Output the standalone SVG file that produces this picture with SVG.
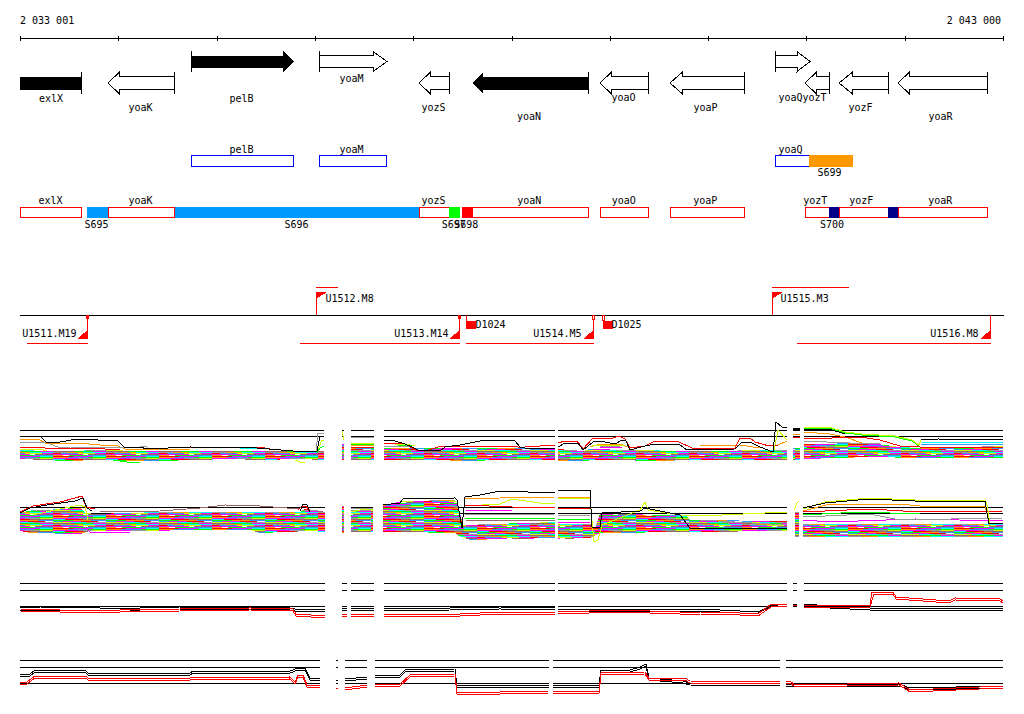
<svg xmlns="http://www.w3.org/2000/svg" width="1024" height="714" viewBox="0 0 1024 714" shape-rendering="crispEdges">
<style>
text{font-family:"DejaVu Sans Mono","Liberation Mono",monospace;font-size:10px;fill:#000}
.m{text-anchor:middle}
.e{text-anchor:end}
.ol{fill:#fff;stroke:#000;stroke-width:1}
.fk{fill:#000}
.bar{stroke:#000;stroke-width:1;fill:none}
.bb{fill:none;stroke:#00f}
.rb{fill:none;stroke:#f00}
.tu{stroke:#f00;fill:none}
.tf{fill:#f00}
.ref{stroke:#000;fill:none}
.band{fill:url(#mix)}
polyline{fill:none;stroke-width:1}
.k{stroke:#000}.r{stroke:#f00}.o{stroke:#f90}.y{stroke:#cf0}.g{stroke:#0f0}.mg{stroke:#f0f}.c{stroke:#0ff}.b{stroke:#39f}.gr{stroke:#999}.br{stroke:#966}
</style>
<defs>
<pattern id="mix" width="53" height="12" patternUnits="userSpaceOnUse">
<rect x="0" y="0" width="20" height="1" fill="#f00"/><rect x="20" y="0" width="20" height="1" fill="#f0f"/><rect x="40" y="0" width="13" height="1" fill="#0ff"/>
<rect x="0" y="1" width="15" height="1" fill="#f90"/><rect x="15" y="1" width="20" height="1" fill="#39f"/><rect x="35" y="1" width="18" height="1" fill="#0f0"/>
<rect x="0" y="2" width="25" height="1" fill="#f0f"/><rect x="25" y="2" width="15" height="1" fill="#999"/><rect x="40" y="2" width="13" height="1" fill="#cf0"/>
<rect x="0" y="3" width="12" height="1" fill="#0ff"/><rect x="12" y="3" width="18" height="1" fill="#f00"/><rect x="30" y="3" width="23" height="1" fill="#966"/>
<rect x="0" y="4" width="20" height="1" fill="#0f0"/><rect x="20" y="4" width="18" height="1" fill="#f90"/><rect x="38" y="4" width="15" height="1" fill="#39f"/>
<rect x="0" y="5" width="10" height="1" fill="#39f"/><rect x="10" y="5" width="18" height="1" fill="#f0f"/><rect x="28" y="5" width="17" height="1" fill="#f00"/>
<rect x="0" y="6" width="18" height="1" fill="#cf0"/><rect x="18" y="6" width="15" height="1" fill="#0ff"/><rect x="33" y="6" width="20" height="1" fill="#999"/>
<rect x="0" y="7" width="22" height="1" fill="#966"/><rect x="22" y="7" width="18" height="1" fill="#0f0"/><rect x="40" y="7" width="13" height="1" fill="#f0f"/>
<rect x="0" y="8" width="14" height="1" fill="#999"/><rect x="14" y="8" width="16" height="1" fill="#f90"/><rect x="30" y="8" width="23" height="1" fill="#0ff"/>
<rect x="0" y="9" width="8" height="1" fill="#f00"/><rect x="8" y="9" width="17" height="1" fill="#39f"/><rect x="25" y="9" width="17" height="1" fill="#cf0"/><rect x="42" y="9" width="11" height="1" fill="#f0f"/>
<rect x="0" y="10" width="30" height="1" fill="#f0f"/><rect x="35" y="10" width="18" height="1" fill="#966"/>
<rect x="0" y="11" width="10" height="1" fill="#f90"/><rect x="16" y="11" width="18" height="1" fill="#0f0"/><rect x="34" y="11" width="19" height="1" fill="#39f"/>
</pattern>
</defs>
<rect width="1024" height="714" fill="#fff"/>

<g id="ruler">
<text x="20" y="24">2 033 001</text>
<text x="1001" y="24" class="e">2 043 000</text>
<path class="bar" d="M20 38.5H1004M20.5 36V41M118.5 36V41M217.5 36V41M315.5 36V41M413.5 36V41M512.5 36V41M610.5 36V41M708.5 36V41M806.5 36V41M905.5 36V41M1003.5 36V41"/>
</g>

<g id="genes">
<g id="gene-exlX"><rect x="20" y="76.5" width="61" height="13" class="fk"/><path class="bar" d="M81.5 72V94"/><text x="51" y="101.5" class="m">exlX</text></g>
<g id="gene-yoaK"><polygon class="ol" points="108,83 119,72.5 119,76.5 174.5,76.5 174.5,89.5 119,89.5 119,93.5"/><path class="bar" d="M174.5 72V94"/><text x="140.5" y="111" class="m">yoaK</text></g>
<g id="gene-pelB"><polygon class="fk" points="191,55.5 283,55.5 283,51 294,61.5 283,72 283,68 191,68"/><path class="bar" d="M191.5 51V72"/><text x="241.5" y="101.5" class="m">pelB</text></g>
<g id="gene-yoaM"><polygon class="ol" points="319.5,55.5 373,55.5 373,51.5 387,61.5 373,71.5 373,67.5 319.5,67.5"/><path class="bar" d="M319.5 51V72"/><text x="351.5" y="82" class="m">yoaM</text></g>
<g id="gene-yozS"><polygon class="ol" points="419,83 430,72.5 430,76.5 449.5,76.5 449.5,89.5 430,89.5 430,93.5"/><path class="bar" d="M449.5 72V94"/><text x="433.5" y="111" class="m">yozS</text></g>
<g id="gene-yoaN"><polygon class="fk" points="472,83 483,72 483,76.5 589,76.5 589,89.5 483,89.5 483,94"/><path class="bar" d="M588.5 72V94"/><text x="529" y="119.5" class="m">yoaN</text></g>
<g id="gene-yoaO"><polygon class="ol" points="600,83 611,72.5 611,76.5 648.5,76.5 648.5,89.5 611,89.5 611,93.5"/><path class="bar" d="M648.5 72V94"/><text x="623.5" y="101" class="m">yoaO</text></g>
<g id="gene-yoaP"><polygon class="ol" points="670,83 682,72.5 682,76.5 744.5,76.5 744.5,89.5 682,89.5 682,93.5"/><path class="bar" d="M744.5 72V94"/><text x="705.5" y="111" class="m">yoaP</text></g>
<g id="gene-yoaQ"><polygon class="ol" points="775.5,55.5 797,55.5 797,51.5 810,61.5 797,71.5 797,67.5 775.5,67.5"/><path class="bar" d="M775.5 51V72"/><text x="790.5" y="101" class="m">yoaQ</text></g>
<g id="gene-yozT"><polygon class="ol" points="805,83 816,72.5 816,76.5 829.5,76.5 829.5,89.5 816,89.5 816,93.5"/><path class="bar" d="M829.5 72V94"/><text x="814.5" y="101" class="m">yozT</text></g>
<g id="gene-yozF"><polygon class="ol" points="839,83 852,72.5 852,76.5 888.5,76.5 888.5,89.5 852,89.5 852,93.5"/><path class="bar" d="M888.5 72V94"/><text x="860.5" y="111" class="m">yozF</text></g>
<g id="gene-yoaR"><polygon class="ol" points="898,83 909,72.5 909,76.5 987.5,76.5 987.5,89.5 909,89.5 909,93.5"/><path class="bar" d="M987.5 72V94"/><text x="940.5" y="119.5" class="m">yoaR</text></g>
</g>

<g id="operons">
<g id="op-pelB"><rect x="191.5" y="155.5" width="102" height="11" class="bb"/><text x="241.5" y="152.5" class="m">pelB</text></g>
<g id="op-yoaM"><rect x="319.5" y="155.5" width="67" height="11" class="bb"/><text x="351.5" y="152.5" class="m">yoaM</text></g>
<g id="op-yoaQ"><rect x="775.5" y="155.5" width="34" height="11" class="bb"/><text x="790.5" y="152.5" class="m">yoaQ</text></g>
<g id="seg-S699"><rect x="809" y="155" width="44" height="12" fill="#f90"/><text x="829.5" y="175.5" class="m">S699</text></g>
</g>

<g id="features">
<g id="f-exlX"><rect x="20.5" y="207.5" width="61" height="10" class="rb"/><text x="50.5" y="204" class="m">exlX</text></g>
<g id="seg-S695"><rect x="87" y="207" width="21" height="11" fill="#09f"/><text x="96.5" y="228.3" class="m">S695</text></g>
<g id="f-yoaK"><rect x="108.5" y="207.5" width="66" height="10" class="rb"/><text x="140.5" y="204" class="m">yoaK</text></g>
<g id="seg-S696"><rect x="175" y="207" width="244" height="11" fill="#09f"/><text x="296.5" y="228.3" class="m">S696</text></g>
<g id="f-yozS"><rect x="419.5" y="207.5" width="30" height="10" class="rb"/><text x="433.5" y="204" class="m">yozS</text></g>
<g id="seg-S697"><rect x="449" y="207" width="11" height="11" fill="#0f0"/><text x="453.7" y="228.3" class="m">S697</text></g>
<g id="seg-S698"><rect x="462" y="207" width="11" height="11" fill="#f00"/><text x="466.3" y="228.3" class="m">S698</text></g>
<g id="f-yoaN"><rect x="472.5" y="207.5" width="116" height="10" class="rb"/><text x="529.3" y="204" class="m">yoaN</text></g>
<g id="f-yoaO"><rect x="600.5" y="207.5" width="48" height="10" class="rb"/><text x="623.7" y="204" class="m">yoaO</text></g>
<g id="f-yoaP"><rect x="670.5" y="207.5" width="74" height="10" class="rb"/><text x="705.3" y="204" class="m">yoaP</text></g>
<g id="f-yozT"><rect x="805.5" y="207.5" width="24" height="10" class="rb"/><text x="815.3" y="204" class="m">yozT</text></g>
<g id="f-yozF"><rect x="839.5" y="207.5" width="48.5" height="10" class="rb"/><text x="861.3" y="204" class="m">yozF</text></g>
<g id="f-yoaR"><rect x="898.5" y="207.5" width="89" height="10" class="rb"/><text x="940.3" y="204" class="m">yoaR</text></g>
<g id="seg-S700"><rect x="829" y="207" width="10" height="11" fill="#008"/><rect x="888" y="207" width="10" height="11" fill="#008"/><text x="832" y="228.3" class="m">S700</text></g>
</g>

<g id="transcription-units">
<path class="ref" d="M20 315.5H1004"/>
<g id="tu-U1512.M8"><path class="tu" d="M316.5 292V315M316 287.5H338"/><polygon class="tf" points="316,292 327,292 316,299"/><text x="325.5" y="302.3">U1512.M8</text></g>
<g id="tu-U1515.M3"><path class="tu" d="M772.5 292V315M772 287.5H849"/><polygon class="tf" points="772,292 783,292 772,299"/><text x="780.5" y="302.3">U1515.M3</text></g>
<g id="tu-U1511.M19"><path class="tu" d="M87.5 315V338.5M27 343.5H88"/><rect x="86" y="315" width="3" height="4" class="tf"/><polygon class="tf" points="88,329.5 88,339 77,339"/><text x="76.5" y="336.7" class="e">U1511.M19</text></g>
<g id="tu-U1513.M14"><path class="tu" d="M459.5 315V338.5M300 343.5H460"/><rect x="458" y="315" width="3" height="4" class="tf"/><polygon class="tf" points="460,329.5 460,339 449.5,339"/><text x="448.5" y="336.7" class="e">U1513.M14</text></g>
<g id="tu-D1024"><path class="tu" d="M466.5 315V328M466 343.5H594"/><rect x="466" y="321" width="10" height="7.5" class="tf"/><text x="475.5" y="328.3">D1024</text></g>
<g id="tu-U1514.M5"><path class="tu" d="M593.5 315V338.5"/><rect x="592.5" y="315.5" width="2" height="4" fill="#fff" stroke="#f00"/><polygon class="tf" points="594,329.5 594,339 583,339"/><text x="581.5" y="336.7" class="e">U1514.M5</text></g>
<g id="tu-D1025"><rect x="602.5" y="315.5" width="2" height="5" fill="#fff" stroke="#f00"/><rect x="603" y="320.5" width="10" height="8" class="tf"/><text x="611.5" y="328.3">D1025</text></g>
<g id="tu-U1516.M8"><path class="tu" d="M990.5 315V338.5M797 343.5H991"/><polygon class="tf" points="991,329.5 991,339 980,339"/><text x="978.5" y="336.7" class="e">U1516.M8</text></g>
</g>

<g id="panel1">
<path class="ref" d="M20 430.5H324M342 430.5H344M351 430.5H374M384 430.5H555M558 430.5H787M804 430.5H1003M20 436.5H324M342 436.5H344M351 436.5H374M384 436.5H555M558 436.5H787M793 436.5H800M804 436.5H1003M20 451.5H324M342 451.5H344M351 451.5H374M384 451.5H555M558 451.5H787M793 451.5H800M804 451.5H1003"/>
<polygon class="band" points="20,450 47,451 120,450 125,451 324,451 324,460 300,459 260,460 230,459 160,461 125,461 100,460 65,461 45,460 20,459"/>
<polygon class="band" points="342,444 344,444 344,460 342,460"/>
<polygon class="band" points="351,448 374,448 374,460 351,460"/>
<polygon class="band" points="384,448 555,448 555,460 500,460 470,461 430,460 384,460"/>
<polygon class="band" points="558,449 583,451 590,449 630,450 690,451 787,450 787,460 700,460 650,461 620,460 558,461"/>
<polygon class="band" points="793,448 800,448 800,460 793,460"/>
<polygon class="band" points="804,444 870,443 900,447 920,448 1003,446 1003,458 920,458 870,457 804,459"/>
<rect x="793" y="428" width="7" height="3" fill="#000"/>
<polyline class="o" points="20,440 38,439 47,444 77,443 100,445 118,446 125,449 190,449"/>
<polyline class="gr" points="20,443 45,442 58,447 70,447 110,448 140,447 145,446 150,449"/>
<polyline class="r" points="20,448 33,447 45,448 90,448 120,450"/>
<polyline class="y" points="20,449 40,449 47,451"/>
<polyline class="r" points="190,447 260,447 270,449"/>
<polyline class="c" points="240,448 262,448"/>
<polyline class="g" points="120,461 127,462 140,462"/>
<polyline class="y" points="295,460 300,462 305,462"/>
<polyline class="gr" points="316,451 318,433 324,433"/>
<polyline class="y" points="316,452 319,447 322,440 324,440"/>
<polyline class="g" points="317,453 320,448 324,446"/>
<polyline class="k" points="20,436 40,436 47,443 60,442 77,439 118,441 125,448 140,447 147,449 190,447 257,448 293,451 317,451 320,436 324,436"/>
<polyline class="y" points="342,431 344,440"/>
<polyline class="gr" points="351,437 374,437"/>
<polyline class="y" points="351,443 374,443"/>
<polyline class="g" points="351,444 374,444"/>
<polyline class="o" points="351,445 374,445"/>
<polyline class="r" points="351,447 374,447"/>
<polyline class="gr" points="384,446 410,447"/>
<polyline class="y" points="395,444 405,444 415,446"/>
<polyline class="g" points="398,445 412,446"/>
<polyline class="mg" points="440,449 450,448 460,449"/>
<polyline class="r" points="384,443 405,444 416,450 425,451 438,447 450,446 512,446 518,447 525,447 540,446 555,445"/>
<polyline class="k" points="384,440 395,441 405,444 412,447 418,450 440,451 445,447 460,445 480,441 500,440 515,441 520,447 530,449 555,448"/>
<polyline class="o" points="590,447 600,444 620,444 628,447"/>
<polyline class="o" points="700,446 740,445 760,448"/>
<polyline class="y" points="592,446 625,445"/>
<polyline class="mg" points="600,447 622,447"/>
<polyline class="gr" points="600,446 620,446"/>
<polyline class="r" points="558,443 565,441 577,441 583,449 593,438 600,439 613,438 619,436 625,439 630,448 645,446 655,441 679,442 692,448 735,448 740,438 750,438 755,442 769,446 778,445"/>
<polyline class="k" points="558,447 565,443 578,443 583,450 593,442 600,441 615,444 622,440 626,441 630,450 645,446 655,444 680,445 687,450 735,449 742,442 750,442 760,447 773,452 776,422 782,427 787,428"/>
<polyline class="y" points="774,450 778,430 787,440"/>
<polyline class="o" points="778,445 787,441"/>
<polyline class="o" points="793,434 800,434"/>
<polyline class="r" points="793,437 800,437"/>
<polyline class="o" points="804,432 830,434 845,437 862,443 880,444"/>
<polyline class="r" points="804,439 860,437 880,440 900,446 920,447 1003,447"/>
<polyline class="gr" points="804,441 850,443 880,444"/>
<polyline class="mg" points="850,447 880,446 900,448"/>
<polyline class="c" points="921,442 1003,443"/>
<polyline class="b" points="921,444 1003,444"/>
<polyline class="k" points="804,429 829,429 845,434"/>
<polyline class="g" points="804,428 829,428 845,433 862,435 895,437 912,441 919,446"/>
<polyline class="y" points="804,427 829,427 845,432 862,434 895,436 912,440 919,445 921,440 938,439 1003,440"/>
<polyline class="k" points="921,440 938,439 1003,440"/>
</g>

<g id="panel2">
<path class="ref" d="M20 507.5H325M342 507.5H344M351 507.5H373M383 507.5H555M558 507.5H787M803 507.5H1003M20 513.5H325M342 513.5H344M351 513.5H373M383 513.5H555M558 513.5H787M803 513.5H1003M20 528.5H325M342 528.5H344M351 528.5H373M383 528.5H555M558 528.5H787M803 528.5H1003"/>
<polygon class="band" points="20,513 33,510 80,508 86,513 95,514 160,512 300,512 305,509 315,510 325,512 325,532 310,531 260,533 250,530 90,531 80,534 30,533 20,531"/>
<polygon class="band" points="342,506 344,506 344,533 342,533"/>
<polygon class="band" points="351,510 373,510 373,532 351,532"/>
<polygon class="band" points="383,505 403,501 455,500 458,505 463,525 555,522 555,538 470,540 458,536 455,533 400,532 383,532"/>
<polygon class="band" points="558,524 590,524 595,528 600,514 685,515 690,520 787,521 787,531 690,532 600,533 590,538 558,539"/>
<polygon class="band" points="795,512 799,512 799,537 795,537"/>
<polygon class="band" points="803,524 1003,524 1003,537 803,537"/>
<polyline class="y" points="33,515 55,510 80,505 85,507 88,520"/>
<polyline class="r" points="20,512 33,506 60,502 75,498 82,496 86,507 95,509"/>
<polyline class="k" points="20,513 30,508 47,505 75,501 83,498 87,508 92,511"/>
<polyline class="br" points="100,512 160,511 200,508 225,505 260,506 300,509"/>
<polyline class="r" points="298,510 302,506 306,506 310,512"/>
<polyline class="k" points="300,511 303,504 307,505 310,512"/>
<polyline class="mg" points="85,527 90,532 130,533"/>
<polyline class="y" points="351,512 360,510 373,509"/>
<polyline class="gr" points="351,508 373,508"/>
<polyline class="o" points="465,499 500,498 555,497"/>
<polyline class="y" points="465,506 500,504 512,499 540,503 555,504"/>
<polyline class="r" points="465,505 512,507 555,508"/>
<polyline class="mg" points="465,510 512,511"/>
<polyline class="gr" points="465,515 555,514"/>
<polyline class="g" points="465,518 555,518"/>
<polyline class="br" points="465,520 555,521"/>
<polyline class="k" points="383,505 400,503 403,499 455,498 457,500 462,528 465,497 480,495 500,491 555,493"/>
<polyline class="o" points="558,497 590,497"/>
<polyline class="r" points="558,508 590,508"/>
<polyline class="gr" points="558,515 590,515"/>
<polyline class="g" points="558,519 590,520"/>
<polyline class="mg" points="558,522 590,522"/>
<polyline class="gr" points="700,520 787,525"/>
<polyline class="y" points="558,498 590,499 594,542 598,540 602,525 640,510 645,502 648,510 680,515 700,516 787,512"/>
<polyline class="k" points="558,490 590,490 592,527 600,527 602,513 640,511 645,508 680,515 690,528 787,528"/>
<polyline class="y" points="794,510 797,503 799,501"/>
<polyline class="o" points="803,511 830,504 900,504 920,506 985,506 990,526"/>
<polyline class="r" points="803,512 870,509 920,512 1003,511"/>
<polyline class="mg" points="803,520 830,522 915,519 1003,521"/>
<polyline class="gr" points="803,517 870,514 900,520 1003,518"/>
<polyline class="g" points="803,515 860,512 920,514"/>
<polyline class="y" points="803,509 825,502 869,498 915,500 985,500 987,505 990,524"/>
<polyline class="k" points="803,508 825,503 869,499 915,501 985,501 989,524 1003,523"/>
</g>

<g id="panel3">
<path class="ref" d="M20 583.5H325M342 583.5H347M351 583.5H374M384 583.5H555M558 583.5H787M793 583.5H797M804 583.5H1003M20 590.5H325M342 590.5H347M351 590.5H374M384 590.5H555M558 590.5H787M793 590.5H797M804 590.5H1003M20 606.5H325M342 606.5H347M351 606.5H374M384 606.5H555M558 606.5H787M793 606.5H797M804 606.5H1003"/>
<polyline class="k" points="20,608 40,607 100,608 130,609 140,608 180,607 250,607 290,608 295,609 325,609"/>
<polyline class="k" points="20,610 40,610 100,611 130,611 140,610 180,609 250,609 290,610 295,611 325,611"/>
<polyline class="r" points="20,609 60,610 120,610 180,609 250,608 293,609 296,614 325,616"/>
<polyline class="r" points="20,611 60,612 120,612 180,611 250,610 293,611 296,616 325,618"/>
<polyline class="k" points="342,608 347,608"/><polyline class="k" points="342,610 347,610"/>
<polyline class="r" points="342,614 347,614"/><polyline class="r" points="342,616 347,616"/>
<polyline class="k" points="351,608 374,608"/><polyline class="k" points="351,611 374,610"/>
<polyline class="r" points="351,614 374,614"/><polyline class="r" points="351,616 374,616"/>
<polyline class="k" points="384,608 450,608 500,607 555,608"/><polyline class="k" points="384,611 450,610 500,609 555,610"/>
<polyline class="r" points="384,614 460,614 480,613 500,612 555,612"/><polyline class="r" points="384,616 460,616 480,615 500,614 555,614"/>
<polyline class="k" points="558,609 700,609 740,611 760,611 770,606 787,604"/>
<polyline class="k" points="558,611 700,611 740,613 758,613 770,607 787,606"/>
<polyline class="r" points="558,612 620,610 680,612 700,612 740,613 758,614 770,605 787,604"/>
<polyline class="r" points="558,614 620,612 680,614 700,614 740,615 758,616 771,607 787,606"/>
<polyline class="k" points="793,604 797,604"/><polyline class="r" points="793,605 797,605"/>
<polyline class="k" points="804,604 830,606 870,608 1003,608"/>
<polyline class="k" points="804,606 830,608 870,610 1003,610"/>
<polyline class="r" points="804,605 870,605 872,592 893,592 896,597 949,601 955,598 1000,599 1003,601"/>
<polyline class="r" points="804,607 870,607 874,594 893,594 896,599 949,603 955,600 1000,601 1003,603"/>
</g>

<g id="panel4">
<path class="ref" d="M20 660.5H320M336 660.5H338M345 660.5H367M375 660.5H549M553 660.5H780M786 660.5H1003M20 667.5H320M336 667.5H338M345 667.5H367M375 667.5H549M553 667.5H780M786 667.5H1003M20 683.5H320M336 683.5H338M345 683.5H367M375 683.5H549M553 683.5H780M786 683.5H1003"/>
<polyline class="k" points="20,674 30,674 35,670 85,670 88,673 190,673 193,671 290,671 298,668 305,668 310,678 320,679"/>
<polyline class="k" points="20,676 30,676 35,672 85,672 88,675 190,675 193,673 290,673 298,670 305,670 310,680 320,681"/>
<polyline class="r" points="20,682 27,682 35,676 85,676 90,679 190,678 290,677 295,682 298,675 303,675 307,685 320,686"/>
<polyline class="r" points="20,684 27,684 35,678 85,678 90,681 190,680 290,679 295,684 298,677 303,677 307,687 320,688"/>
<polyline class="k" points="336,680 338,680"/><polyline class="r" points="336,688 338,688"/>
<polyline class="k" points="345,679 367,677"/><polyline class="k" points="345,681 367,679"/>
<polyline class="r" points="345,688 367,685"/><polyline class="r" points="345,690 367,687"/>
<polyline class="k" points="375,675 400,675 405,670 455,669 457,686 549,685"/>
<polyline class="k" points="375,677 400,677 405,672 455,671 457,688 549,687"/>
<polyline class="r" points="375,684 400,684 410,675 455,674 457,692 500,692 549,691"/>
<polyline class="r" points="375,686 400,686 410,677 455,676 457,694 500,694 549,693"/>
<polyline class="k" points="553,685 599,685 601,670 630,670 640,667 646,664 649,678 683,681 690,683 780,684"/>
<polyline class="k" points="553,687 599,687 601,672 630,672 640,669 646,666 649,680 683,683 690,685 780,686"/>
<polyline class="r" points="553,691 599,691 601,673 645,672 649,678 685,678 690,681 780,682"/>
<polyline class="r" points="553,693 599,693 601,675 645,674 649,680 685,680 690,683 780,684"/>
<polyline class="k" points="786,684 899,684 910,688 1003,686"/>
<polyline class="k" points="786,686 899,686 910,690 1003,688"/>
<polyline class="r" points="786,681 790,681 795,685 899,683 910,690 1003,686"/>
<polyline class="r" points="786,683 790,683 795,687 899,685 910,692 1003,688"/>
</g>
</svg>
